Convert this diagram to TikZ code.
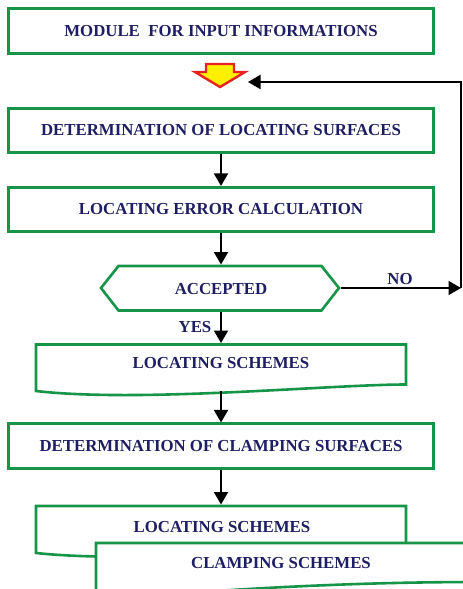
\documentclass[tikz,border=0pt]{standalone}
\usepackage{fontspec}
\setmainfont{Liberation Serif}
\usetikzlibrary{arrows.meta}
\definecolor{gbox}{RGB}{22,148,72}
\definecolor{navy}{RGB}{30,30,100}
\definecolor{redar}{RGB}{232,32,32}
\definecolor{yelar}{RGB}{255,240,0}
\tikzset{
  box/.style={draw=gbox, line width=2.6pt, fill=white, minimum width=424.5pt, minimum height=44.5pt, inner sep=0pt},
  gline/.style={draw=gbox, line width=2.6pt, fill=white, line join=miter},
  lbl/.style={text=navy, font=\fontsize{16.8}{18}\selectfont\bfseries, inner sep=0pt},
  arr/.style={-{Triangle[length=12.5pt,width=14pt]}, line width=1.9pt, black},
}
\begin{document}
\begin{tikzpicture}[x=1pt,y=-1pt]
\useasboundingbox (0,0) rectangle (463,589);
\clip (0,0) rectangle (463,589);
\fill[white] (0,0) rectangle (463,589);

% box 1
\node[box, minimum height=45.5pt, lbl] (b1) at (221,31) {MODULE~~FOR INPUT INFORMATIONS};

% red/yellow block arrow
\draw[redar, fill=yelar, line width=2.4pt, line join=miter]
  (206,64) -- (234,64) -- (234,72) -- (245,72) -- (220,87) -- (195,72) -- (206,72) -- cycle;
\coordinate (redR) at (248,82);

% box 2 and 3
\node[box, lbl] (b2) at (221,130.5) {DETERMINATION OF LOCATING SURFACES};
\node[box, lbl] (b3) at (221,209.5) {LOCATING ERROR CALCULATION};

% hexagon
\draw[gline] (101,288) -- (118.5,266) -- (321.5,266) -- (339,288) -- (321.5,310.5) -- (118.5,310.5) -- cycle;
\node[lbl] (acc) at (221,289) {ACCEPTED};
\coordinate (hexT) at (221,264.5);
\coordinate (hexB) at (221,312);
\coordinate (hexR) at (340.5,288);

% document box 4
\draw[gline] (36,344.5) -- (406,344.5) -- (406,384.5)
  .. controls (330,384.5) and (140,403) .. (36,391) -- cycle;
\node[lbl] (b4) at (221,363) {LOCATING SCHEMES};
\coordinate (b4T) at (221,343);
\coordinate (b4B) at (221,391);

% box 5
\node[box, lbl] (b5) at (221,446) {DETERMINATION OF CLAMPING SURFACES};

% document box 6
\draw[gline] (36,506) -- (406,506) -- (406,548)
  .. controls (330,548) and (140,564) .. (36,553) -- cycle;
\node[lbl] (b6) at (222,527) {LOCATING SCHEMES};
\coordinate (b6T) at (221,504.5);

% document box 7
\draw[gline] (96,600) -- (96,543) -- (480,543) -- (480,582)
  .. controls (380,582) and (260,586) .. (96,600);
\node[lbl] (b7) at (281,563) {CLAMPING SCHEMES};

% connectors
\draw[arr] (b2.south) -- (b3.north);
\draw[arr] (b3.south) -- (hexT);
\draw[arr] (hexB) -- (b4T);
\draw[arr] (b4B) -- (b5.north);
\draw[arr] (b5.south) -- (b6T);

% feedback
\coordinate (fbR) at (461,288);
\coordinate (fbT) at (461,82);
\draw[arr] (hexR) -- (fbR);
\draw[arr] (fbR) -- (fbT) -- (redR);

% labels
\node[lbl] (no) at (400,279) {NO};
\node[lbl] (yes) at (195,327) {YES};
\end{tikzpicture}
\end{document}
